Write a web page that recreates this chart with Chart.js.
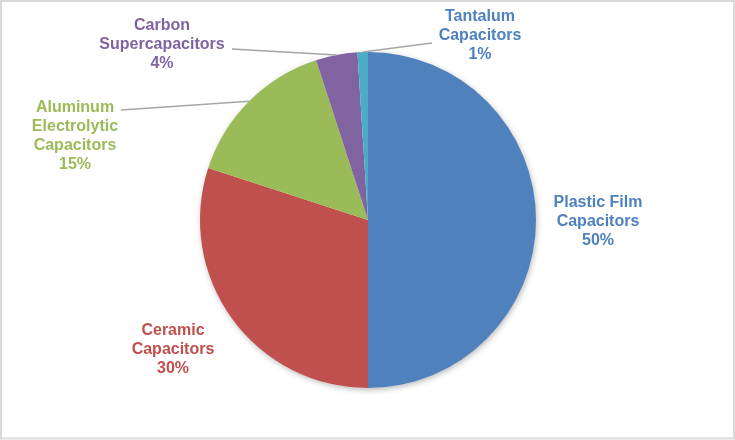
<!DOCTYPE html>
<html>
<head>
<meta charset="utf-8">
<script src="https://cdn.jsdelivr.net/npm/chart.js@4.4.0/dist/chart.umd.min.js"></script>
<style>
  html, body { margin: 0; padding: 0; background: #fff; }
  #wrap { width: 735px; height: 440px; position: relative; }
</style>
</head>
<body>
<div id="wrap"><canvas id="pieCanvas" width="735" height="440"></canvas></div>
<script>
// Données
const categories = [
  "Plastic Film Capacitors",
  "Ceramic Capacitors",
  "Aluminum Electrolytic Capacitors",
  "Carbon Supercapacitors",
  "Tantalum Capacitors",
];
const shares = [50, 30, 15, 4, 1];

const sliceColors = ["#4F81BD", "#C0504D", "#9BBB59", "#8064A2", "#4BACC6"];
const labelColors = ["#4F81BD", "#C0504D", "#9BBB59", "#8064A2", "#4F81BD"];

// label lines, label centre (relative to pie centre), leader end near label
const labelLines = [
  ["Plastic Film", "Capacitors"],
  ["Ceramic", "Capacitors"],
  ["Aluminum", "Electrolytic", "Capacitors"],
  ["Carbon", "Supercapacitors"],
  ["Tantalum", "Capacitors"],
];
const labelPlace = [
  { dx: 230, dy: 2 },
  { dx: -195, dy: 130 },
  { dx: -293, dy: -83.5 },
  { dx: -206, dy: -175 },
  { dx: 112, dy: -184 },
];
const leaderEnds = [null, null, { dx: -247, dy: -110 }, { dx: -136, dy: -171 }, { dx: 64, dy: -177 }];

const pieShadow = {
  id: "pieShadow",
  beforeDatasetsDraw(chart) {
    const arc = chart.getDatasetMeta(0).data[0];
    const { ctx } = chart;
    ctx.save();
    ctx.shadowColor = "rgba(0,0,0,0.30)";
    ctx.shadowBlur = 6;
    ctx.shadowOffsetX = 1;
    ctx.shadowOffsetY = 2;
    ctx.fillStyle = "#fff";
    ctx.beginPath();
    ctx.arc(arc.x, arc.y, arc.outerRadius - 0.5, 0, Math.PI * 2);
    ctx.fill();
    ctx.restore();
  },
};

const outsideLabels = {
  id: "outsideLabels",
  afterDraw(chart) {
    const { ctx } = chart;
    const arcs = chart.getDatasetMeta(0).data;
    const total = shares.reduce((a, b) => a + b, 0);
    ctx.save();
    arcs.forEach((arc, i) => {
      const cx = arc.x, cy = arc.y;
      const mid = (arc.startAngle + arc.endAngle) / 2;
      if (leaderEnds[i]) {
        const r = arc.outerRadius;
        ctx.strokeStyle = "#A6A6A6";
        ctx.lineWidth = 1.5;
        ctx.beginPath();
        ctx.moveTo(cx + leaderEnds[i].dx, cy + leaderEnds[i].dy);
        ctx.lineTo(cx + Math.cos(mid) * r, cy + Math.sin(mid) * r);
        ctx.stroke();
      }
      const lines = labelLines[i].concat([Math.round(shares[i] / total * 100) + "%"]);
      const lh = 19;
      const lx = cx + labelPlace[i].dx;
      const ly = cy + labelPlace[i].dy - (lines.length - 1) * lh / 2;
      ctx.font = "bold 16px 'Liberation Sans', Arial, sans-serif";
      ctx.fillStyle = labelColors[i];
      ctx.textAlign = "center";
      ctx.textBaseline = "middle";
      lines.forEach((t, k) => ctx.fillText(t, lx, ly + k * lh));
    });
    ctx.restore();

    // cadre
    ctx.save();
    ctx.strokeStyle = "#D9D9D9";
    ctx.lineWidth = 2;
    ctx.strokeRect(1, 1, chart.width - 2, chart.height - 2.5);
    ctx.restore();
  },
};

const pieChart = new Chart(document.getElementById("pieCanvas"), {
  type: "pie",
  data: {
    labels: categories,
    datasets: [
      {
        data: shares,
        backgroundColor: sliceColors,
        borderWidth: 0,
        hoverOffset: 0,
        offset: 0,
      },
    ],
  },
  options: {
    responsive: false,
    animation: false,
    layout: { padding: { top: 52, bottom: 52, left: 1, right: 0 } },
    plugins: {
      legend: { display: false },
      tooltip: { enabled: false },
    },
  },
  plugins: [pieShadow, outsideLabels],
});
</script>
</body>
</html>
